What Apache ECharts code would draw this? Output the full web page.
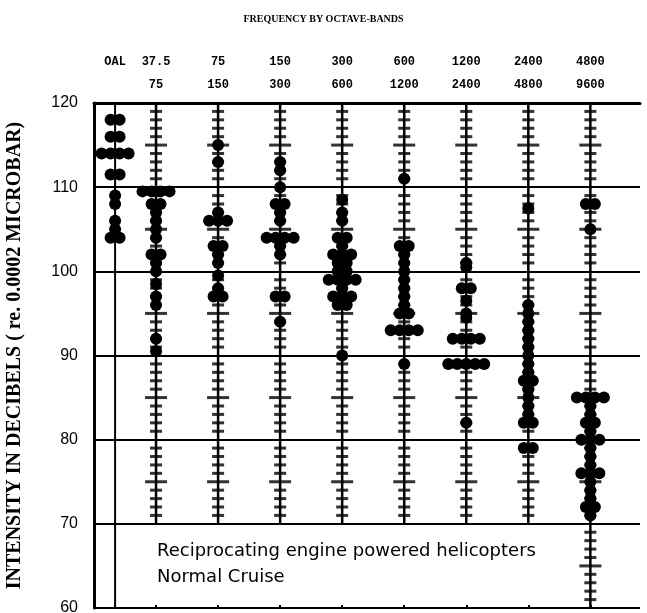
<!DOCTYPE html>
<html>
<head>
<meta charset="utf-8">
<script src="https://cdn.jsdelivr.net/npm/echarts@6/dist/echarts.min.js"></script>
<style>html,body{margin:0;padding:0;background:#fff;}#c{width:647px;height:613px;}</style>
</head>
<body>
<div id="c"></div>
<script>
// ---- data ----
const bandTop = ['OAL', '37.5', '75', '150', '300', '600', '1200', '2400', '4800'];
const bandBottom = ['', '75', '150', '300', '600', '1200', '2400', '4800', '9600'];
const bandPos = [0.34, 1, 2, 3, 4, 5, 6, 7, 8];
const bandLineLow = [60, 70, 70, 70, 70, 70, 70, 70, 60];
const yTicks = [60, 70, 80, 90, 100, 110, 120];

const oal   = [118, 118, 116, 116, 114, 114, 114, 114, 111.5, 111.5, 109, 108, 106, 105, 104, 104];
const b37   = [109.5, 109.5, 109.5, 109.5, 108, 108, 107, 106, 105, 104, 102, 102, 101, 100, 98.5, 97, 96, 92, 90.5];
const b75   = [115, 113, 107, 106, 106, 106, 103, 103, 102, 101, 99.5, 98, 97, 97];
const b150  = [113, 112, 110, 108, 108, 107, 106, 104, 104, 104, 104, 103, 102, 97, 97, 94];
const b300  = [108.5, 107, 106, 104, 104, 103, 102, 102, 102, 101, 101, 100, 100, 99, 99, 99, 99, 98, 97, 97, 97, 96, 96, 90];
const b600  = [111, 103, 103, 102, 101, 100, 99, 98, 97, 96, 95, 95, 93, 93, 93, 93, 89];
const b1200 = [101, 100.5, 98, 98, 96.5, 95, 94.5, 92, 92, 92, 92, 89, 89, 89, 89, 89, 82];
const b2400 = [107.5, 96, 95, 94, 93, 92, 91, 90, 89, 88, 87, 87, 86, 85, 84, 83, 82, 82, 79, 79];
const b4800 = [108, 108, 105, 85, 85, 85, 85, 84, 83, 82, 82, 81, 80, 80, 80, 79, 78, 77, 76, 76, 76, 75, 74, 73, 72, 72, 71];
const bandValues = [oal, b37, b75, b150, b300, b600, b1200, b2400, b4800];

// ---- build ----
const DOT = 12, SPREAD = 9;
const dotData = [];
bandValues.forEach((vals, i) => {
  const counts = {};
  vals.forEach(v => counts[v] = (counts[v] || 0) + 1);
  Object.keys(counts).forEach(k => {
    const n = counts[k];
    for (let j = 0; j < n; j++) {
      dotData.push({ value: [bandPos[i], +k], symbolOffset: [(j - (n - 1) / 2) * SPREAD, 0] });
    }
  });
});

const tickData = [];
bandPos.forEach((p, i) => {
  if (i === 0) return;
  for (let v = bandLineLow[i] + 1; v < 120; v++) {
    if (v % 10 === 0) continue;
    tickData.push({ value: [p, v], symbolSize: v % 5 === 0 ? [22, 3] : [12, 3] });
  }
});

const lineSeries = bandPos.map((p, i) => ({
  type: 'line', silent: true, showSymbol: false, symbol: 'none', z: 2,
  data: [[p, bandLineLow[i]], [p, 120]],
  lineStyle: { color: '#000', width: i === 0 ? 2 : 2.5 }
}));

const chart = echarts.init(document.getElementById('c'), null, { renderer: 'canvas' });
chart.setOption({
  backgroundColor: '#fff',
  animation: false,
  title: {
    text: 'FREQUENCY BY OCTAVE-BANDS', left: 'center', top: 9,
    textStyle: { fontFamily: 'Liberation Serif', fontWeight: 'bold', fontSize: 10, color: '#000' }
  },
  grid: { left: 94, right: 7, top: 103, bottom: 5, containLabel: false, outerBoundsMode: 'none' },
  xAxis: [{
    type: 'value', position: 'top', min: 0, max: 8.8,
    axisLine: { show: true, lineStyle: { color: '#000', width: 3 } },
    axisTick: { show: false },
    splitLine: { show: false },
    axisLabel: {
      customValues: bandPos, margin: 7, color: '#000',
      fontFamily: 'Liberation Mono', fontWeight: 'bold', fontSize: 12, lineHeight: 23,
      formatter: v => { const i = bandPos.indexOf(v); return i < 0 ? '' : bandTop[i] + '\n' + (bandBottom[i] || ' '); }
    }
  }, {
    type: 'value', position: 'bottom', min: 0, max: 8.8,
    axisLine: { show: false },
    axisTick: { show: true, inside: true, length: 3, customValues: bandPos, lineStyle: { color: '#000', width: 2 } },
    axisLabel: { show: false },
    splitLine: { show: false }
  }],
  yAxis: {
    type: 'value', min: 60, max: 120, interval: 10,
    name: 'INTENSITY IN DECIBELS ( re. 0.0002 MICROBAR)',
    nameLocation: 'middle', nameRotate: 90, nameGap: 69,
    nameTextStyle: { fontFamily: 'Liberation Serif', fontWeight: 'bold', fontSize: 20, color: '#000' },
    axisLine: { show: true, lineStyle: { color: '#000', width: 3 } },
    axisTick: { show: false },
    splitLine: { show: true, lineStyle: { color: '#000', width: 2 } },
    axisLabel: {
      color: '#000', margin: 16, fontSize: 16, fontFamily: 'Liberation Sans Narrow, Liberation Sans',
      customValues: yTicks
    }
  },
  graphic: [{
    type: 'text', left: 157, top: 538, z: 100,
    style: {
      text: 'Reciprocating engine powered helicopters\nNormal Cruise',
      font: '18px "DejaVu Sans"', fill: '#000', lineHeight: 26
    }
  }],
  series: [
    ...lineSeries,
    {
      type: 'scatter', silent: true, z: 3, symbol: 'rect', data: tickData,
      itemStyle: { color: '#000' }
    },
    {
      type: 'scatter', silent: true, z: 4, symbol: 'circle', symbolSize: DOT, data: dotData,
      itemStyle: { color: '#000', opacity: 1 }
    }
  ]
});
</script>
</body>
</html>
